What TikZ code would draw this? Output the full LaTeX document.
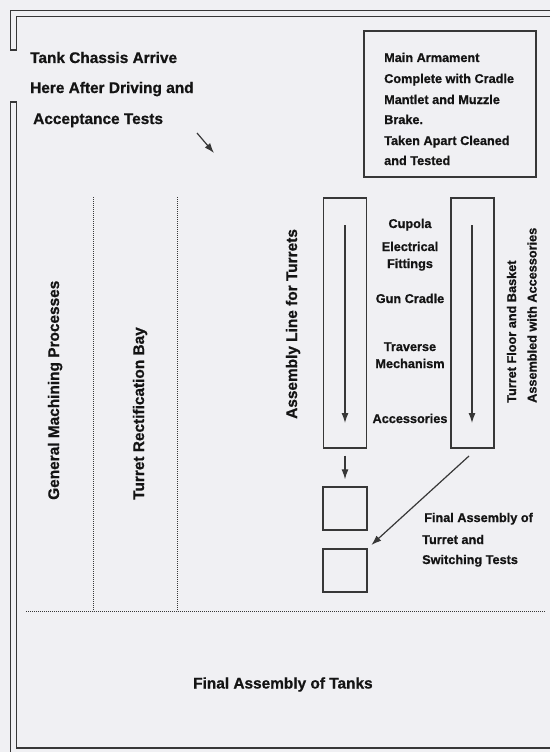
\documentclass[tikz,border=0pt]{standalone}
\usepackage{fontspec}
\setmainfont[BoldFeatures={FakeBold=0.8}]{Liberation Sans}
\usetikzlibrary{arrows.meta}
\definecolor{bg}{RGB}{240,240,243}
\definecolor{ink}{RGB}{55,55,55}
\definecolor{txt}{RGB}{20,20,20}
\begin{document}
\begin{tikzpicture}[x=1pt,y=-1pt,
  wall/.style={draw=ink,line width=1.2pt},
  box/.style={draw=ink,line width=1.3pt,rectangle,inner sep=0pt},
  dots/.style={draw=ink,line width=0.9pt,dash pattern=on 0.9pt off 1.1pt},
  arr/.style={draw=ink,line width=1.2pt,-{Latex[length=10pt,width=7pt]}},
  big/.style={text=txt,font=\bfseries\fontsize{15.4}{18}\selectfont,inner sep=0pt,anchor=base west},
  small/.style={text=txt,font=\bfseries\fontsize{12.7}{15}\selectfont,inner sep=0pt,anchor=base west},
  smallc/.style={small,anchor=base},
]
\fill[bg] (0,0) rectangle (550,752);
\useasboundingbox (0,0) rectangle (550,752);

% walls
\draw[wall] (550,10.5) -- (10.5,10.5) -- (10.5,50) -- (16.5,50) -- (16.5,16.5) -- (550,16.5);
\draw[wall] (10.5,760) -- (10.5,102) -- (16.5,102) -- (16.5,748) -- (550,748);

% dotted bay divisions
\draw[dots] (93,197) -- (93,611);
\draw[dots] (177,197) -- (177,611);
\draw[dots] (26,611) -- (545,611);

% boxes
\node[box,minimum width=172pt,minimum height=146pt] (arm) at (450,104) {};
\node[box,minimum width=43pt,minimum height=250pt] (line1) at (345,323) {};
\node[box,minimum width=43pt,minimum height=250pt] (line2) at (472.5,323) {};
\node[box,minimum width=44pt,minimum height=43pt] (sb1) at (345,508.5) {};
\node[box,minimum width=44pt,minimum height=43pt] (sb2) at (345,570.5) {};

% arrows
\coordinate (a1s) at (345,225);
\coordinate (a1e) at (345,423);
\coordinate (a2s) at (472,225);
\coordinate (a2e) at (472,423);
\draw[arr] (a1s) -- (a1e);
\draw[arr] (a2s) -- (a2e);
\draw[arr,shorten <=7pt,shorten >=7pt] (line1.south) -- (sb1.north);
\coordinate (d0) at (469,456);
\draw[arr,shorten >=5pt] (d0) -- (sb2.north east);
\coordinate (c0) at (197,133);
\coordinate (c1) at (214,153);
\draw[arr] (c0) -- (c1);

% texts
\node[big] (t1) at (30,63) {Tank Chassis Arrive};
\node[big] (t2) at (30,93) {Here After Driving and};
\node[big] (t3) at (33,124) {Acceptance Tests};

\node[small] (m1) at (384,62) {Main Armament};
\node[small] (m2) at (384,83) {Complete with Cradle};
\node[small] (m3) at (384,104) {Mantlet and Muzzle};
\node[small] (m4) at (384,124) {Brake.};
\node[small] (m5) at (384,145) {Taken Apart Cleaned};
\node[small] (m6) at (384,165) {and Tested};

\node[smallc] (c1t) at (410,228) {Cupola};
\node[smallc] (c2t) at (410,251) {Electrical};
\node[smallc] (c3t) at (410,268) {Fittings};
\node[smallc] (c4t) at (410,303) {Gun Cradle};
\node[smallc] (c5t) at (410,351) {Traverse};
\node[smallc] (c6t) at (410,368) {Mechanism};
\node[smallc] (c7t) at (410,423) {Accessories};

\node[small] (f1) at (424,522) {Final Assembly of};
\node[small] (f2) at (422,544) {Turret and};
\node[small] (f3) at (422,564) {Switching Tests};

\node[big] (fat) at (193,688.5) {Final Assembly of Tanks};

\node[big,rotate=90] (gmp) at (59,500) {General Machining Processes};
\node[big,rotate=90] (trb) at (144,500) {Turret Rectification Bay};
\node[big,rotate=90] (alt) at (297,419) {Assembly Line for Turrets};
\node[small,rotate=90] (tfb) at (516,403) {Turret Floor and Basket};
\node[small,rotate=90] (awa) at (536.5,403) {Assembled with Accessories};
\end{tikzpicture}
\end{document}
